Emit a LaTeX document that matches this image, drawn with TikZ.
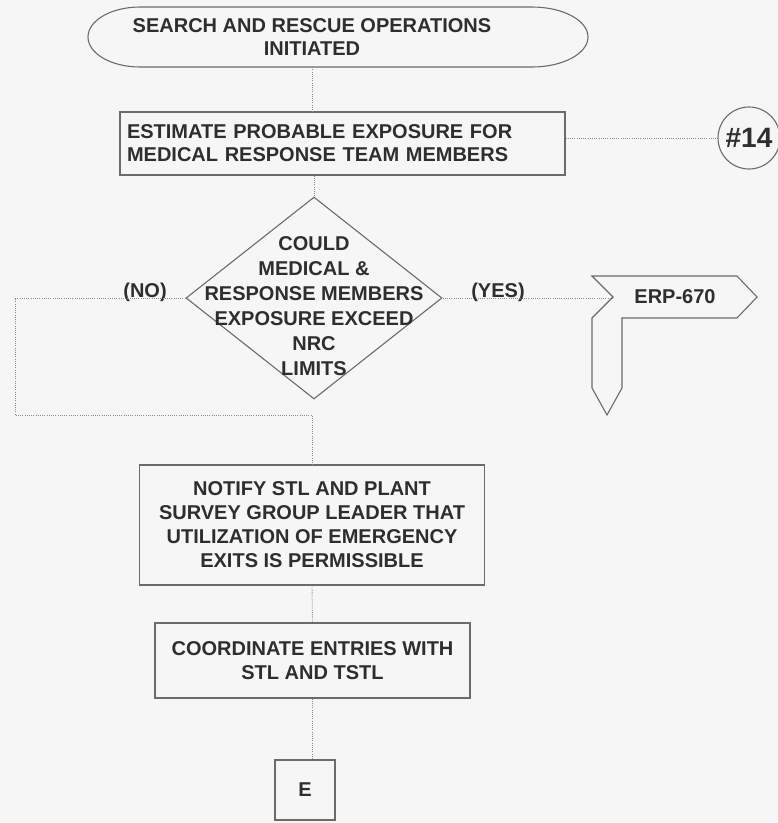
\documentclass[tikz,border=0pt]{standalone}
\usepackage{fontspec}
\setmainfont{Liberation Sans}
\usetikzlibrary{shapes.geometric}
\definecolor{ink}{gray}{0.18}
\definecolor{edge}{gray}{0.42}
\definecolor{wire}{gray}{0.55}
\definecolor{paper}{gray}{0.965}
\begin{document}
\begin{tikzpicture}[x=1pt,y=-1pt,
  txt/.style={font=\bfseries\fontsize{20}{23}\selectfont, text=ink, align=center, inner sep=0pt},
  outline/.style={draw=edge, line width=1.1pt},
  box/.style={txt, outline, rectangle},
  conn/.style={draw=wire, line width=0.9pt, dash pattern=on 0.9pt off 1.3pt},
  ring/.style={outline, circle, minimum size=62pt, inner sep=0pt, text=ink,
    font=\bfseries\fontsize{28}{30}\selectfont}]
  % page
  \fill[paper] (0,0) rectangle (778,823);
  \useasboundingbox (0,0) rectangle (778,823);

  % start terminator
  \draw[outline] (140,7) -- (532,7)
    arc[start angle=-90, end angle=90, x radius=56, y radius=30]
    -- (140,67)
    arc[start angle=90, end angle=270, x radius=52, y radius=30] -- cycle;
  \node[txt, minimum height=60pt] (start) at (312,37)
    {SEARCH AND RESCUE OPERATIONS\\INITIATED};

  % estimate step and off-page reference
  \node[box, align=left, text width=431pt, inner xsep=7pt, minimum height=63pt]
    (est) at (342.5,143.5)
    {ESTIMATE PROBABLE EXPOSURE FOR\\MEDICAL RESPONSE TEAM MEMBERS};
  \node[ring] (c14) at (749,138) {\#14};

  % decision
  \node[diamond, outline, minimum width=256pt, minimum height=202pt, inner sep=0pt]
    (dec) at (314,298) {};
  \node[txt, font=\bfseries\fontsize{20}{25}\selectfont] (decq) at (314,306)
    {COULD\\MEDICAL \&\\RESPONSE MEMBERS\\EXPOSURE EXCEED\\NRC\\LIMITS};
  \node[txt] (no) at (145,292) {(NO)};
  \node[txt] (yes) at (498,292) {(YES)};

  % procedure pointer
  \draw[outline] (592,276) -- (737,276) -- (757,297) -- (737,318) -- (622,318)
    -- (622,388) -- (607,415) -- (592,388) -- (592,318) -- (613,297) -- cycle;
  \coordinate (erpin) at (613,297);
  \node[txt] (erp) at (675,297) {ERP-670};

  % lower steps
  \node[box, font=\bfseries\fontsize{20}{24}\selectfont,
    minimum width=345pt, minimum height=120pt] (notify) at (312,525)
    {NOTIFY STL AND PLANT\\SURVEY GROUP LEADER THAT\\UTILIZATION OF EMERGENCY\\EXITS IS PERMISSIBLE};
  \node[box, font=\bfseries\fontsize{20}{24}\selectfont,
    minimum width=315pt, minimum height=75pt] (coord) at (312.5,660.5)
    {COORDINATE ENTRIES WITH\\STL AND TSTL};
  \node[box, minimum width=60pt, minimum height=60pt] (e) at (305,790) {E};

  % connectors
  \coordinate (loopL) at (15,415);
  \draw[conn] (start.south) -- (start.south |- est.north);
  \draw[conn] (est.east |- c14.west) -- (c14.west);
  \draw[conn] (dec.north |- est.south) -- (dec.north);
  \draw[conn] (dec.east) -- (dec.east -| erpin);
  \draw[conn] (dec.west) -| (loopL) -| (notify.north);
  \draw[conn] (notify.south) -- (coord.north);
  \draw[conn] (coord.south) -- (coord.south |- e.north);
\end{tikzpicture}
\end{document}
